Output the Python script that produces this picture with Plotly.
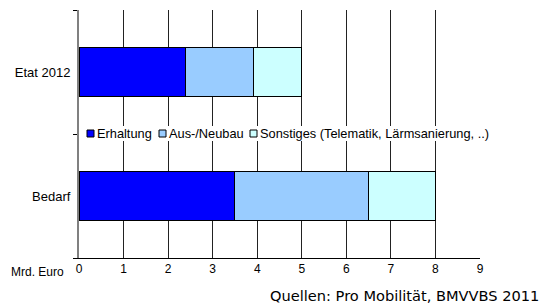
import plotly.graph_objects as go

categories = ["Etat 2012", "Bedarf"]
erhaltung = [2.38, 3.5]
ausneubau = [1.54, 3.0]
sonstiges = [1.08, 1.5]
series_names = ["Erhaltung", "Aus-/Neubau", "Sonstiges (Telematik, Lärmsanierung, ..)"]
x_ticks = list(range(0, 10))

colors = ["#0000FF", "#99CCFF", "#CCFFFF"]
font_main = "Liberation Sans, Arial, sans-serif"

# plot-area geometry (pixels) used to place the custom legend
L, R, T, B = 79, 480, 10, 258
def px(x):
    return (x - L) / (R - L)
def py(y):
    return (B - y) / (B - T)

fig = go.Figure()
for name, vals, col in zip(series_names, [erhaltung, ausneubau, sonstiges], colors):
    fig.add_trace(go.Bar(
        y=categories, x=vals, name=name, orientation="h",
        marker=dict(color=col, line=dict(color="black", width=1)),
        showlegend=False,
    ))

# legend drawn as keys + labels (legend box is too tight for plotly's own legend)
shapes = [dict(type="rect", xref="paper", yref="paper", x0=px(84), x1=px(494),
               y0=py(141), y1=py(126), fillcolor="white", line=dict(width=0), layer="above")]
annotations = []
key_left = [87, 159, 250]
for name, col, kx in zip(series_names, colors, key_left):
    shapes.append(dict(type="rect", xref="paper", yref="paper", x0=px(kx), x1=px(kx + 7),
                       y0=py(137), y1=py(130), fillcolor=col,
                       line=dict(color="black", width=1), layer="above"))
    annotations.append(dict(text=name, xref="paper", yref="paper", x=px(kx + 9), y=py(133.5),
                            xanchor="left", yanchor="middle", showarrow=False,
                            xshift=-1, font=dict(size=12.8, family=font_main)))

annotations += [
    dict(text="Mrd. Euro", xref="paper", yref="paper", x=px(66), y=py(272),
         xanchor="right", yanchor="middle", showarrow=False,
         font=dict(size=12, family=font_main)),
    dict(text="Quellen: Pro Mobilität, BMVVBS 2011", xref="paper", yref="paper",
         x=px(541), y=py(295), xanchor="right", yanchor="middle", showarrow=False,
         font=dict(size=14.6, family="DejaVu Sans, sans-serif")),
]

fig.update_layout(
    width=544, height=307,
    margin=dict(l=L, r=544 - R, t=T, b=307 - B, autoexpand=False),
    paper_bgcolor="white", plot_bgcolor="white",
    barmode="stack", bargap=0.6,
    font=dict(family=font_main, size=12, color="black"),
    showlegend=False,
    xaxis=dict(
        range=[0, 9], tickvals=x_ticks, ticktext=[str(v) for v in x_ticks],
        showgrid=True, gridcolor="#222222", gridwidth=1,
        showline=True, linecolor="black", linewidth=1,
        zeroline=False, ticks="", tickfont=dict(size=12),
    ),
    yaxis=dict(
        type="category", categoryorder="array", categoryarray=categories[::-1],
        range=[-0.5, 1.5],
        showline=True, linecolor="#808080", linewidth=2,
        ticks="outside", tickson="boundaries", ticklen=4, tickcolor="black",
        ticklabelstandoff=4,
        tickfont=dict(size=13), showgrid=False, zeroline=False,
    ),
    shapes=shapes,
    annotations=annotations,
)

fig.write_html(
    "out.html",
    config={"displayModeBar": False},
    post_script="document.body.style.margin='0';document.body.style.padding='0';"
                "document.body.style.overflow='hidden';",
)
